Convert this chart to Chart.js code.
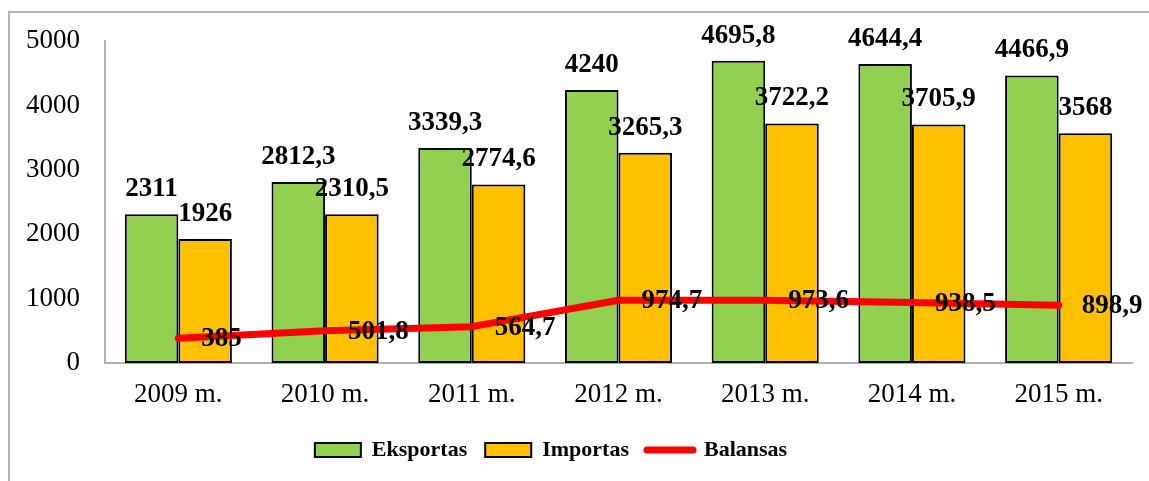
<!DOCTYPE html>
<html>
<head>
<meta charset="utf-8">
<script src="https://cdn.jsdelivr.net/npm/chart.js@4.4.1/dist/chart.umd.min.js"></script>
<style>
  html, body { margin: 0; padding: 0; background: #fff; }
  #wrap { position: relative; width: 1149px; height: 481px; overflow: hidden; }
  #frame { position: absolute; left: 8px; top: 11px; width: 1200px; height: 500px;
           border-left: 2px solid #b4b4b4; border-top: 2px solid #b4b4b4; }
  #grafikas { position: absolute; left: 0; top: 0; }
</style>
</head>
<body>
<div id="wrap">
  <div id="frame"></div>
  <canvas id="grafikas" width="1149" height="481"></canvas>
</div>
<script>
// duomenys
const metai = ['2009 m.', '2010 m.', '2011 m.', '2012 m.', '2013 m.', '2014 m.', '2015 m.'];
const eksportas = [2311, 2812.3, 3339.3, 4240, 4695.8, 4644.4, 4466.9];
const importas = [1926, 2310.5, 2774.6, 3265.3, 3722.2, 3705.9, 3568];
const balansas = [385, 501.8, 564.7, 974.7, 973.6, 938.5, 898.9];
const yTicks = [0, 1000, 2000, 3000, 4000, 5000];

const serif = '"Liberation Serif", "Times New Roman", serif';
Chart.defaults.font.family = serif;
Chart.defaults.color = '#000';

// reikšmių užrašai ant stulpelių ir linijos
const reiksmes = {
  id: 'reiksmes',
  afterDatasetsDraw(chart) {
    const ctx = chart.ctx;
    ctx.save();
    ctx.font = 'bold 27px ' + serif;
    ctx.fillStyle = '#000';
    ctx.textBaseline = 'middle';
    chart.data.datasets.forEach((ds, i) => {
      const meta = chart.getDatasetMeta(i);
      meta.data.forEach((el, j) => {
        const txt = String(ds.data[j]).replace('.', ',');
        if (ds.type === 'line') {
          ctx.textAlign = 'left';
          ctx.fillText(txt, el.x + 23, el.y + 1);
        } else {
          ctx.textAlign = 'center';
          ctx.fillText(txt, el.x, el.y - 25);
        }
      });
    });
    ctx.restore();
  },
  afterLayout(chart) {
    // legenda šiek tiek kairiau, kaip originale
    chart.legend.left -= 15;
    chart.legend.right -= 15;
  }
};

new Chart(document.getElementById('grafikas'), {
  type: 'bar',
  data: {
    labels: metai,
    datasets: [
      {
        label: 'Eksportas',
        data: eksportas,
        backgroundColor: '#92D050',
        borderColor: '#000',
        borderWidth: 2,
        borderSkipped: false,
        order: 1
      },
      {
        label: 'Importas',
        data: importas,
        backgroundColor: '#FFC000',
        borderColor: '#000',
        borderWidth: 2,
        borderSkipped: false,
        order: 1
      },
      {
        type: 'line',
        label: 'Balansas',
        data: balansas,
        borderColor: '#FF0000',
        backgroundColor: '#FF0000',
        borderWidth: 7,
        borderCapStyle: 'round',
        borderJoinStyle: 'round',
        pointRadius: 0,
        tension: 0,
        order: 0
      }
    ]
  },
  options: {
    responsive: false,
    animation: false,
    devicePixelRatio: 1,
    layout: { padding: { left: 0, right: 17, top: 40, bottom: 10 } },
    datasets: {
      bar: { categoryPercentage: 0.73, barPercentage: 1 }
    },
    plugins: {
      tooltip: { enabled: false },
      title: { display: false },
      legend: {
        position: 'bottom',
        labels: {
          usePointStyle: true,
          pointStyleWidth: 46,
          boxHeight: 14,
          padding: 18,
          font: { size: 22, weight: 'bold', family: serif },
          color: '#000',
          generateLabels: chart => chart.data.datasets.map((ds, i) => ({
            text: ds.label,
            fillStyle: ds.backgroundColor,
            strokeStyle: ds.type === 'line' ? ds.borderColor : '#000',
            lineWidth: ds.type === 'line' ? 7 : 2,
            lineCap: 'round',
            pointStyle: ds.type === 'line' ? 'line' : 'rect',
            datasetIndex: i,
            hidden: false
          }))
        }
      }
    },
    scales: {
      x: {
        grid: { display: false, drawTicks: false },
        border: { display: true, color: '#b0b0b0', width: 2 },
        ticks: { padding: 16, font: { size: 27, family: serif }, color: '#000' },
        afterFit: s => { s.height = 58; }
      },
      y: {
        min: 0,
        max: 5000,
        grid: { display: false, drawTicks: false },
        border: { display: true, color: '#b0b0b0', width: 2 },
        afterBuildTicks: s => { s.ticks = yTicks.map(v => ({ value: v })); },
        ticks: {
          padding: 25,
          font: { size: 27, family: serif },
          color: '#000',
          callback: v => String(v)
        },
        afterFit: s => { s.width = 105; }
      }
    }
  },
  plugins: [reiksmes]
});
</script>
</body>
</html>
